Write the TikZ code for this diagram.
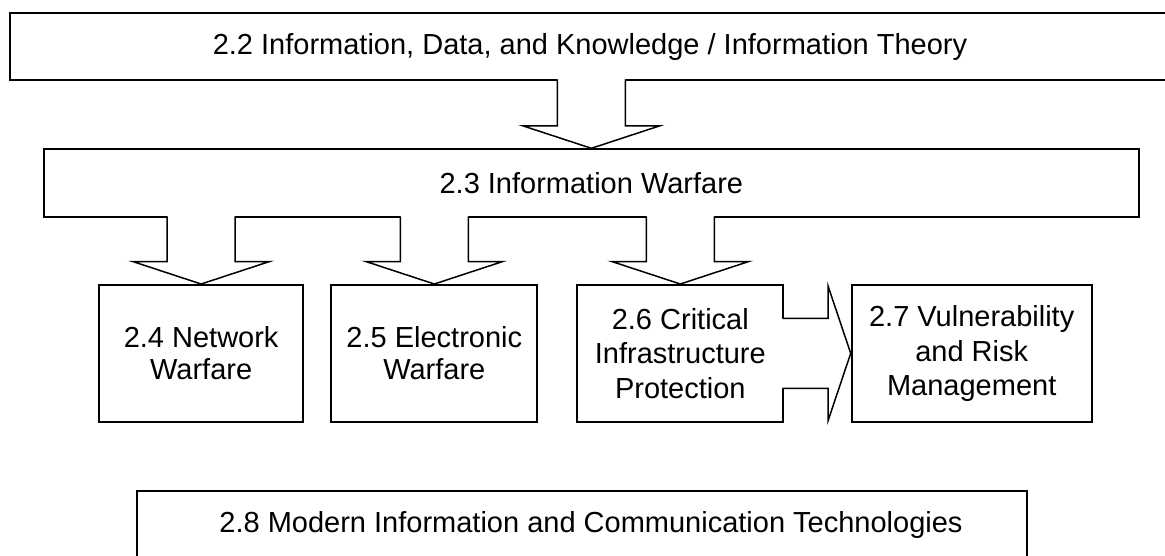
\documentclass[tikz,border=0pt]{standalone}
\usepackage{fontspec}
\setmainfont{Liberation Sans}
\usetikzlibrary{calc}
\tikzset{
  box/.style={draw, line width=2pt, fill=white, align=center, inner sep=0pt,
    font=\fontsize{29}{32}\selectfont},
  tallbox/.style={box, font=\fontsize{29}{34.5}\selectfont},
  blockarrow/.style={draw, line width=1.5pt, line join=miter},
}
% downward block arrow from the bottom of #1 to the top of #2
\newcommand\dnarrow[2]{%
  \fill[white] let \p1=(#1.south), \p2=(#2.north) in
    ({\x2-34pt},{\y1+2.5pt}) -- ({\x2-34pt},{\y2+22.5pt}) -- ({\x2+34pt},{\y2+22.5pt}) -- ({\x2+34pt},{\y1+2.5pt}) -- cycle
    ({\x2-68.5pt},{\y2+22.5pt}) -- (\x2,\y2) -- ({\x2+68.5pt},{\y2+22.5pt}) -- cycle;
  \draw[blockarrow] let \p1=(#1.south), \p2=(#2.north) in
    ({\x2-34pt},{\y1+2pt}) -- ({\x2-34pt},{\y2+22.5pt}) -- ({\x2-68.5pt},{\y2+22.5pt})
    -- (\x2,\y2) -- ({\x2+68.5pt},{\y2+22.5pt}) -- ({\x2+34pt},{\y2+22.5pt}) -- ({\x2+34pt},{\y1+2pt});
}
% rightward block arrow from the right side of #1 to the left side of #2
\newcommand\rtarrow[2]{%
  \fill[white] let \p1=(#1.east), \p2=(#2.west) in
    ({\x1-2.5pt},{\y1+35pt}) -- ({\x2-22.7pt},{\y1+35pt}) -- ({\x2-22.7pt},{\y1-35pt}) -- ({\x1-2.5pt},{\y1-35pt}) -- cycle
    ({\x2-22.7pt},{\y1+67.5pt}) -- (\x2,\y1) -- ({\x2-22.7pt},{\y1-67.5pt}) -- cycle;
  \draw[blockarrow] let \p1=(#1.east), \p2=(#2.west) in
    ({\x1-2pt},{\y1+35pt}) -- ({\x2-22.7pt},{\y1+35pt}) -- ({\x2-22.7pt},{\y1+67.5pt})
    -- (\x2,\y1) -- ({\x2-22.7pt},{\y1-67.5pt}) -- ({\x2-22.7pt},{\y1-35pt}) -- ({\x1-2pt},{\y1-35pt});
}
\begin{document}
\begin{tikzpicture}[x=1pt,y=-1pt]
\useasboundingbox (0,0) rectangle (1165,555);
\fill[white] (0,0) rectangle (1165,555);

\node[box, minimum width=1160.6pt, minimum height=67.6pt] (b22) at (590,46.5)
  {2.2 Information, Data, and Knowledge / Information Theory};
\node[box, minimum width=1095.3pt, minimum height=68pt] (b23) at (591.35,183.3)
  {2.3 Information Warfare};
\node[box, minimum width=204.3pt, minimum height=136.7pt] (b24) at (201.15,353.35)
  {2.4 Network\\Warfare};
\node[box, minimum width=206pt, minimum height=136.7pt] (b25) at (434.3,353.35)
  {2.5 Electronic\\Warfare};
\node[tallbox, minimum width=206pt, minimum height=136.7pt] (b26) at (680.3,353.35)
  {2.6 Critical\\Infrastructure\\Protection};
\node[tallbox, minimum width=240pt, minimum height=137pt] (b27) at (971.7,353.5)
  {2.7 Vulnerability\\and Risk\\Management};
\node[box, minimum width=890pt, minimum height=67pt] (b28) at (582,524.5)
  {\hspace*{18pt}2.8 Modern Information and Communication Technologies};

\dnarrow{b22}{b23}
\dnarrow{b23}{b24}
\dnarrow{b23}{b25}
\dnarrow{b23}{b26}
\rtarrow{b26}{b27}
\end{tikzpicture}
\end{document}
